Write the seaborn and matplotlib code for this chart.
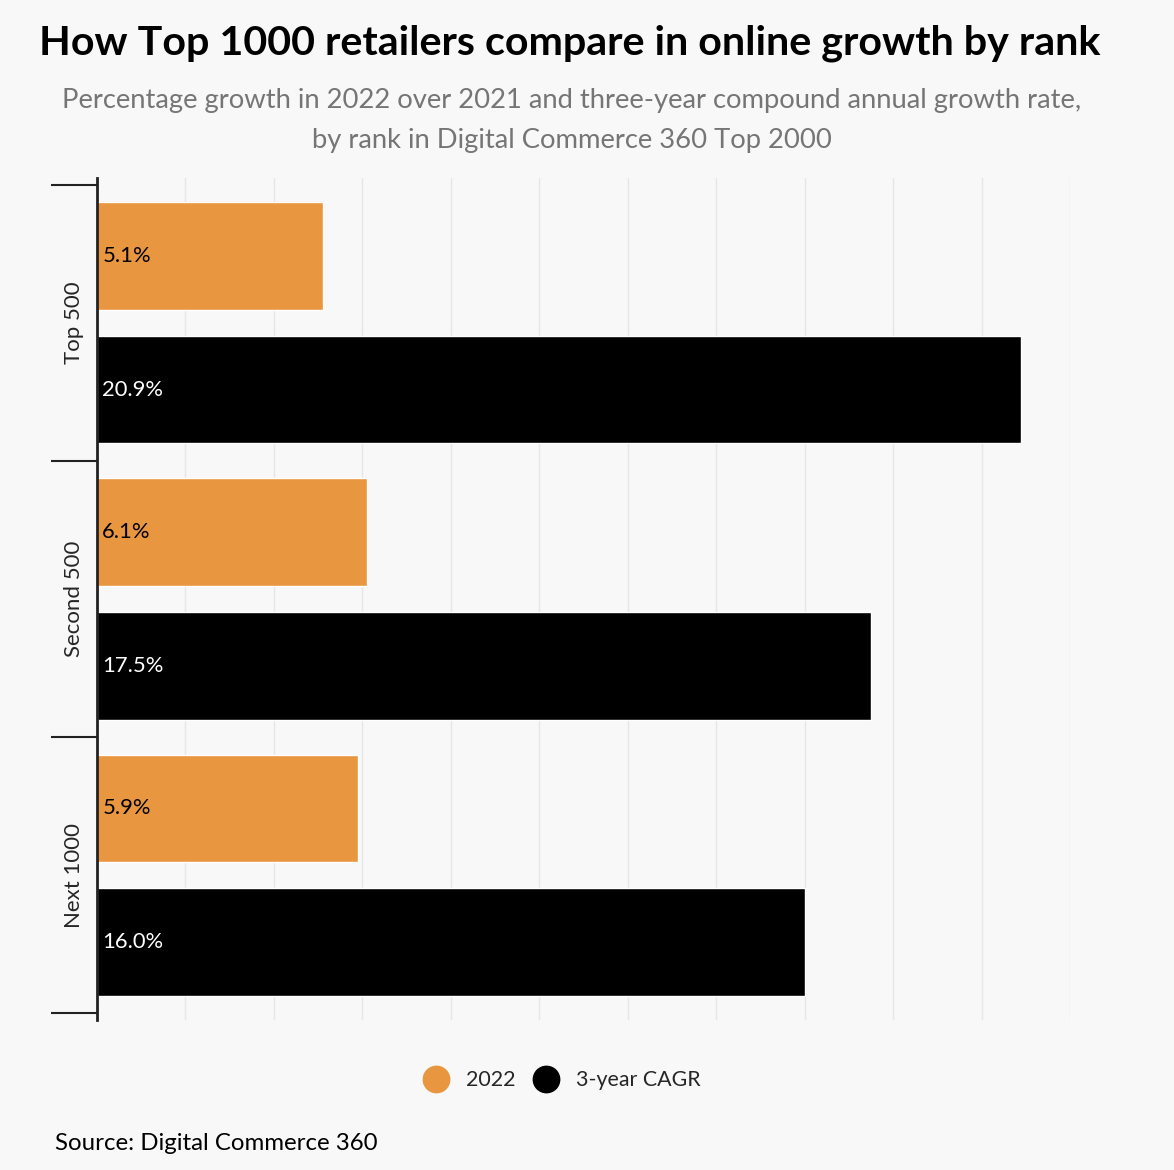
import numpy as np
import pandas as pd
import matplotlib
matplotlib.use('Agg')
import matplotlib.pyplot as plt
from matplotlib.lines import Line2D
import seaborn as sns

# data
groups = ["Top 500", "Second 500", "Next 1000"]
series = ["2022", "3-year CAGR"]
growth_2022 = [5.1, 6.1, 5.9]
cagr_3yr = [20.9, 17.5, 16.0]
colors = ["#E8963F", "#000000"]

df = pd.DataFrame({
    "rank": groups * 2,
    "series": [series[0]] * 3 + [series[1]] * 3,
    "value": growth_2022 + cagr_3yr,
})

sns.set_theme(style="white")
plt.rcParams['font.family'] = ['Lato', 'DejaVu Sans']
bg = "#F8F8F8"

fig = plt.figure(figsize=(11.74, 11.70), dpi=100, facecolor=bg)
ax = fig.add_axes([97 / 1174, 1 - 1020 / 1170, (1070 - 97) / 1174, (1020 - 178) / 1170])
ax.set_facecolor(bg)

sns.barplot(data=df, y="rank", x="value", hue="series", orient="h",
            palette=colors, saturation=1, width=0.97, gap=0.2, legend=False, ax=ax)

# value labels inside bars, left aligned
for cont, col in zip(ax.containers, ["black", "white"]):
    for bar in cont:
        v = bar.get_width()
        ax.text(0.12, bar.get_y() + bar.get_height() / 2, f"{v:.1f}%",
                ha="left", va="center", color=col, fontsize=15.8)

ax.set_xlim(0, 22)
ax.set_ylim(2.525, -0.525)
ax.set_xticks(np.arange(0, 23, 2))
ax.set_xticklabels([])
ax.tick_params(axis="x", length=0)
ax.grid(axis="x", color="#E6E6E6", lw=1)
ax.grid(axis="y", visible=False)
ax.set_axisbelow(True)

# group separators as long ticks, labels rotated in the middle
ax.set_yticks([-0.5, 0.5, 1.5, 2.5])
ax.set_yticklabels([])
ax.tick_params(axis="y", which="major", left=True, length=33, width=1.5, color="#222222", direction="out")
ax.set_yticks(range(len(groups)), minor=True)
ax.set_yticklabels(groups, minor=True, rotation=90, va="center", fontsize=16)
ax.tick_params(axis="y", which="minor", left=True, length=0, pad=9)

for s in ["top", "right", "bottom"]:
    ax.spines[s].set_visible(False)
ax.spines["left"].set_color("#222222")
ax.spines["left"].set_linewidth(2)
ax.set_xlabel("")
ax.set_ylabel("")

fig.text(0.485, 1 - 43 / 1170, "How Top 1000 retailers compare in online growth by rank",
         ha="center", va="center", fontsize=29.7, fontweight="bold", color="black")
fig.text(0.487, 1 - 120.5 / 1170,
         "Percentage growth in 2022 over 2021 and three-year compound annual growth rate,\nby rank in Digital Commerce 360 Top 2000",
         ha="center", va="center", fontsize=19.7, color="#757575", linespacing=1.78)

handles = [Line2D([0], [0], marker="o", color="none", markerfacecolor=c, markeredgecolor=c,
                  markersize=19) for c in colors]
fig.legend(handles, series, loc="center", bbox_to_anchor=(562 / 1174, 1 - 1080 / 1170), ncol=2,
           frameon=False, fontsize=15.4, handletextpad=0.8, columnspacing=0.8, handlelength=1.2)

fig.text(55 / 1174, 1 - 1143 / 1170, "Source: Digital Commerce 360", ha="left", va="center",
         fontsize=17.3, color="black")

fig.savefig("out.png", dpi=100, facecolor=bg)
